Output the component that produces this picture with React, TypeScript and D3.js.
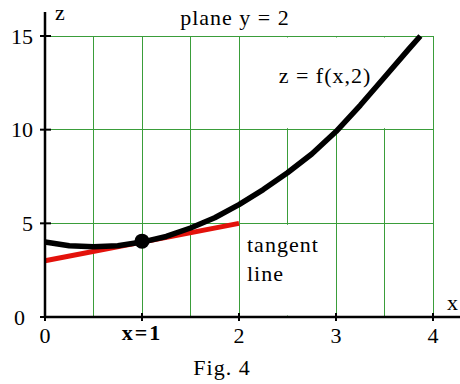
import React from 'react'
import { scaleLinear, line, curveLinear } from 'd3'

// black curve z = f(x,2)
const curveX = [0, 0.25, 0.5, 0.75, 1, 1.25, 1.5, 1.75, 2, 2.25, 2.5, 2.75, 3, 3.25, 3.5, 3.75, 3.87]
const curveZ = [4.0, 3.8, 3.75, 3.8, 4.0, 4.3, 4.75, 5.3, 6.0, 6.8, 7.7, 8.7, 9.9, 11.3, 12.8, 14.3, 15.0]

// red tangent line
const tangentX = [0, 2]
const tangentZ = [3, 5]

// point of tangency
const pointX = 1
const pointZ = 4.05

const gridX = [0.5, 1, 1.5, 2, 2.5, 3, 3.5, 4]
const gridZ = [5, 10, 15]
const xTicks = [0, 1, 2, 3, 4]
const xTickLabels = ['0', 'x=1', '2', '3', '4']
const zTicks = [0, 5, 10, 15]

const FONT = "'Liberation Serif', Times, serif"

const App = () => {
  const x = scaleLinear().domain([0, 4]).range([45, 433])
  const y = scaleLinear().domain([0, 15]).range([317, 36])

  const path = line<[number, number]>()
    .x(d => x(d[0]))
    .y(d => y(d[1]))
    .curve(curveLinear)

  const curve = path(curveX.map((v, i) => [v, curveZ[i]]))
  const tangent = path(tangentX.map((v, i) => [v, tangentZ[i]]))

  const grid = '#3a9d3a'

  return (
    <svg
      width={460}
      height={384}
      style={{ position: 'absolute', left: 0, top: 0, background: '#fff', fontFamily: FONT }}
    >
      {/* grid */}
      <g stroke={grid} strokeWidth={1} shapeRendering="crispEdges">
        {gridX.map(v => (
          <line key={'gx' + v} x1={x(v)} x2={x(v)} y1={y(0)} y2={y(15)} />
        ))}
        {gridZ.map(v => (
          <line key={'gz' + v} x1={x(0)} x2={x(4)} y1={y(v)} y2={y(v)} />
        ))}
      </g>

      {/* label backgrounds hide grid */}
      <rect x={x(2) + 1.5} y={y(15) + 1.5} width={x(4) - x(2) - 3} height={y(10) - y(15) - 3} fill="#fff" />
      <rect x={x(2) + 1.5} y={y(5) + 1.5} width={x(3) - x(2) - 3} height={y(0) - y(5) - 3} fill="#fff" />

      {/* curves */}
      <path d={tangent ?? ''} fill="none" stroke="#e3120b" strokeWidth={5} />
      <path d={curve ?? ''} fill="none" stroke="#000" strokeWidth={5.5} strokeLinejoin="round" />
      <circle cx={x(pointX)} cy={y(pointZ)} r={7.5} fill="#000" />

      {/* axes */}
      <g stroke="#000">
        <line x1={x(0)} x2={x(0)} y1={y(0) + 1} y2={12} strokeWidth={2.5} />
        <line x1={x(0) - 1} x2={460} y1={y(0)} y2={y(0)} strokeWidth={2.5} />
        {zTicks.map(v => (
          <line key={'zt' + v} x1={x(0) - 5} x2={x(0) + 6} y1={y(v)} y2={y(v)} strokeWidth={2} />
        ))}
        {xTicks.map(v => (
          <line key={'xt' + v} x1={x(v)} x2={x(v)} y1={y(0) - 4} y2={y(0) + 4} strokeWidth={2} />
        ))}
      </g>

      {/* tick labels */}
      <g fontSize={22} fill="#000">
        {zTicks.map(v => (
          <text key={'zl' + v} x={v === 0 ? 25 : 33} y={y(v) + 7.5} textAnchor="end">
            {v}
          </text>
        ))}
        {xTicks.map((v, i) => (
          <text
            key={'xl' + v}
            x={x(v)}
            y={v === 1 ? 340 : 343}
            textAnchor="middle"
            fontWeight={v === 1 ? 'bold' : 'normal'}
            letterSpacing={v === 1 ? 2 : 0}
          >
            {xTickLabels[i]}
          </text>
        ))}
      </g>

      {/* titles and annotations */}
      <g fontSize={22} fill="#000" letterSpacing={1}>
        <text x={55} y={20}>z</text>
        <text x={447} y={310} letterSpacing={0}>x</text>
        <text x={235} y={25} textAnchor="middle">plane y = 2</text>
        <text x={325} y={83} textAnchor="middle">z = f(x,2)</text>
        <text x={247} y={252}>tangent</text>
        <text x={247} y={281}>line</text>
        <text x={222} y={375} textAnchor="middle">Fig. 4</text>
      </g>
    </svg>
  )
}

export default App
